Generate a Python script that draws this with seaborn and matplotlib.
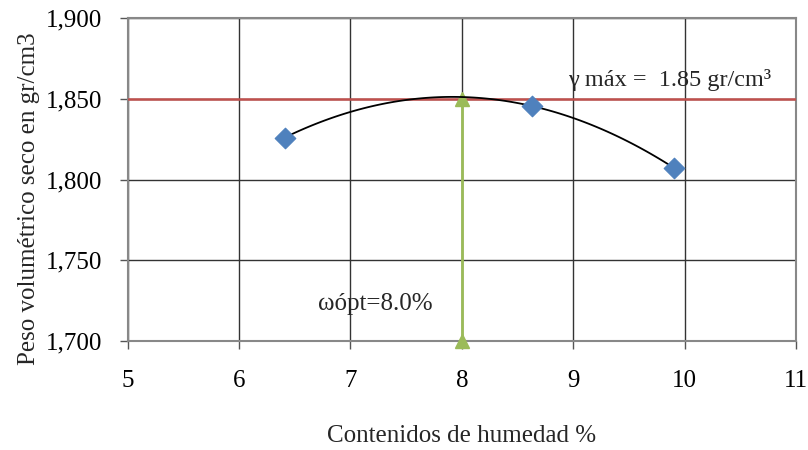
import numpy as np
import pandas as pd
import matplotlib
matplotlib.use("Agg")
import matplotlib.pyplot as plt
import seaborn as sns
from matplotlib.ticker import FuncFormatter

# datos del ensayo
humedad = [6.41, 8.63, 9.91]
peso_seco = [1.826, 1.8455, 1.807]
gamma_max = 1.85
w_opt = 8.0

x_ticks = [5, 6, 7, 8, 9, 10, 11]
y_ticks = [1.700, 1.750, 1.800, 1.850, 1.900]

sns.set_style("white")
plt.rcParams['font.family'] = ['Liberation Serif', 'DejaVu Serif']

data = pd.DataFrame({"humedad": humedad, "peso": peso_seco})

# curva de ajuste (polinomio de grado 2)
coef = np.polyfit(humedad, peso_seco, 2)
xs = np.linspace(min(humedad), max(humedad), 100)
curva = pd.DataFrame({"x": xs, "y": np.polyval(coef, xs)})

fig = plt.figure(figsize=(8.08, 4.5), dpi=100)
ax = fig.add_axes([0.158, 0.242, 0.827, 0.718])

ax.set_xlim(5, 11)
ax.set_ylim(1.700, 1.900)
ax.set_xticks(x_ticks)
ax.set_yticks(y_ticks)
ax.grid(True, color="#333333", linewidth=1)
ax.set_axisbelow(True)

ax.axhline(gamma_max, color="#C0504D", linewidth=1.8, zorder=3)
ax.plot([w_opt, w_opt], [1.700, gamma_max], color="#9BBB59", linewidth=2,
        marker="^", markersize=10, zorder=4, clip_on=False)

sns.lineplot(data=curva, x="x", y="y", color="black", linewidth=1.3, ax=ax, zorder=5)
sns.scatterplot(data=data, x="humedad", y="peso", marker="D", s=110, color="#4F81BD",
                edgecolor="#4F81BD", ax=ax, zorder=6)

ax.text(8.95, 1.8615, "γ máx =  1.85 gr/cm³", fontsize=17.5, va="center", ha="left")
ax.text(6.71, 1.723, "ωópt=8.0%", fontsize=18, va="center", ha="left")

ax.yaxis.set_major_formatter(FuncFormatter(lambda v, p: f"{v:.3f}".replace(".", ",")))
ax.tick_params(axis="both", direction="out", length=5.5, width=1, colors="#555555",
               labelsize=18, labelcolor="black", bottom=True, left=True)
ax.tick_params(axis="x", pad=15)
ax.tick_params(axis="y", pad=13)

for s in ax.spines.values():
    s.set_color("#888888")
    s.set_linewidth(1.5)

ax.set_xlabel("Contenidos de humedad %", fontsize=18)
ax.set_ylabel("Peso volumétrico seco en gr/cm3", fontsize=18)
ax.xaxis.set_label_coords(0.5, -0.295)
ax.yaxis.set_label_coords(-0.147, 0.44)
ax.xaxis.label.set_va("center")
ax.yaxis.label.set_va("center")

fig.savefig("out.png", dpi=100)
